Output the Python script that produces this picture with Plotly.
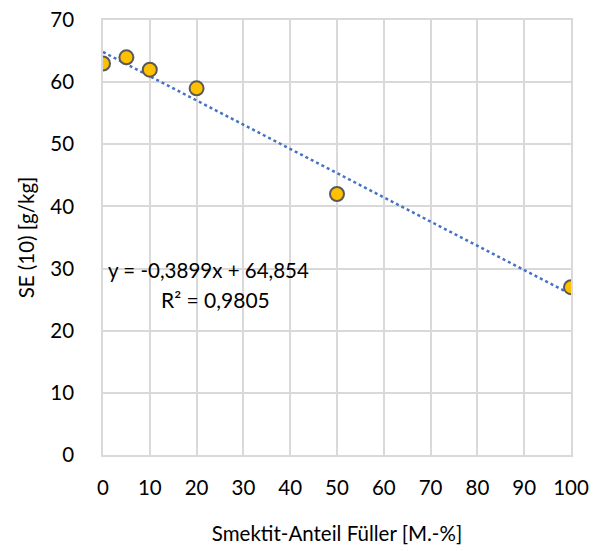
import plotly.graph_objects as go
import numpy as np

x_vals = [0, 5, 10, 20, 50, 100]
y_vals = [63, 64, 62, 59, 42, 27]
slope = -0.3899
intercept = 64.854
x_title = "Smektit-Anteil Füller [M.-%]"
y_title = "SE (10) [g/kg]"

font = "Lato, Calibri, sans-serif"
fs = 20.5
fx = np.array([0, 100])
fy = slope * fx + intercept

fig = go.Figure()
fig.add_trace(go.Scatter(x=fx, y=fy, mode="lines",
                         line=dict(color="#4472C4", width=2.5, dash="dot"),
                         hoverinfo="skip", showlegend=False))
fig.add_trace(go.Scatter(x=x_vals, y=y_vals, mode="markers",
                         marker=dict(size=14, color="#FFC000",
                                     line=dict(color="#595959", width=2)),
                         showlegend=False))
fig.add_annotation(x=0.6, y=29.8, xref="x", yref="y", text="y = -0,3899x + 64,854",
                   showarrow=False, xanchor="left", yanchor="middle",
                   font=dict(family=font, size=fs, color="#000000"))
fig.add_annotation(x=12, y=25.0, xref="x", yref="y", text="R² = 0,9805",
                   showarrow=False, xanchor="left", yanchor="middle",
                   font=dict(family=font, size=fs + 0.5, color="#000000"))

axis_common = dict(showgrid=True, gridcolor="#d9d9d9", gridwidth=1.5,
                   showline=True, linecolor="#d9d9d9", linewidth=1.5, mirror=True,
                   zeroline=False, tickfont=dict(family=font, size=fs, color="#000000"),
                   ticks="", automargin=False)
fig.update_xaxes(range=[0, 100], dtick=10, tick0=0, ticklabelstandoff=14,
                 title=dict(text=x_title, font=dict(family=font, size=fs, color="#000000"), standoff=28),
                 **axis_common)
fig.update_yaxes(range=[0, 70], dtick=10, tick0=0, ticklabelstandoff=23,
                 title=dict(text=y_title, font=dict(family=font, size=fs, color="#000000"), standoff=10),
                 **axis_common)
fig.update_layout(width=594, height=551, margin=dict(l=103, r=23, t=20, b=96),
                  plot_bgcolor="white", paper_bgcolor="white")
fig.write_html("out.html")
